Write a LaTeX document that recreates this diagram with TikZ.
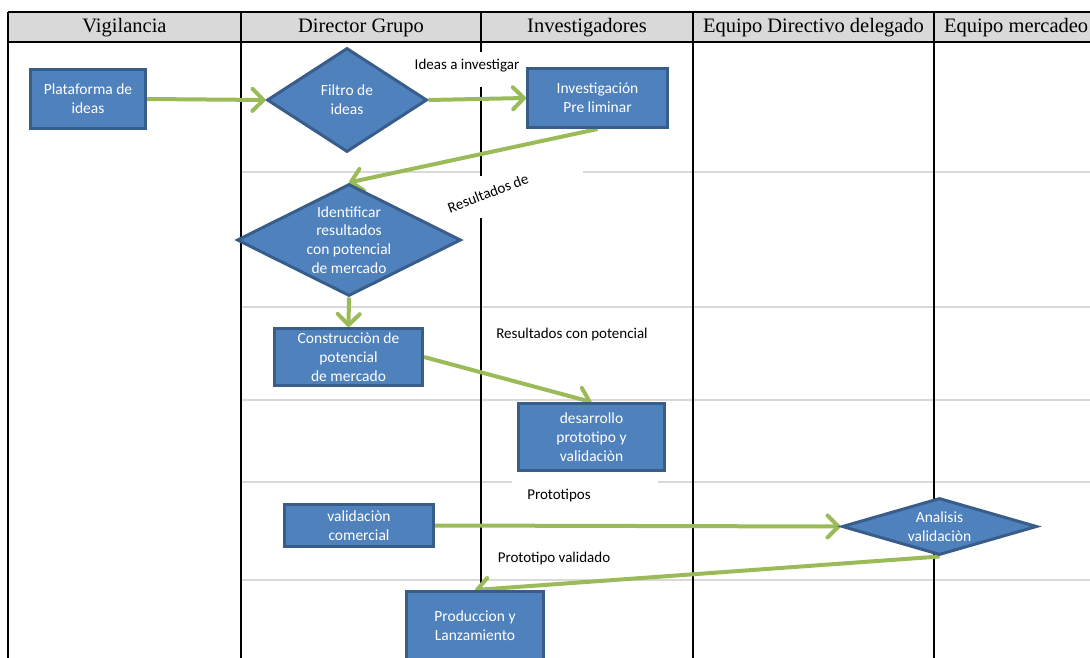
\documentclass[tikz,border=0pt]{standalone}
\usepackage{fontspec}
\setmainfont{Liberation Serif}
\newfontfamily\boxfont{Carlito}
\usetikzlibrary{shapes.geometric,arrows.meta}

\definecolor{boxblue}{HTML}{4F81BD}
\definecolor{boxedge}{HTML}{385D8A}
\definecolor{flowgreen}{HTML}{9BBB59}
\definecolor{headgray}{HTML}{D9D9D9}
\definecolor{rowgray}{HTML}{D9D9D9}

\pgfdeclarelayer{grid}
\pgfdeclarelayer{links}
\pgfsetlayers{grid,links,main}

\begin{document}
\begin{tikzpicture}[x=1pt,y=-1pt,
  proc/.style={rectangle, fill=boxblue, draw=boxedge, line width=3pt,
    text=white, font=\boxfont\fontsize{15.5}{18.7}\selectfont, align=center, inner sep=0pt},
  decision/.style={diamond, fill=boxblue, draw=boxedge, line width=3pt, inner sep=0pt},
  dtext/.style={text=white, font=\boxfont\fontsize{15.5}{18.7}\selectfont, align=center, inner sep=0pt},
  note/.style={text=black, font=\boxfont\fontsize{15}{18}\selectfont, inner sep=0pt},
  flowarrow/.style={draw=flowgreen, line width=4pt,
    -{Straight Barb[length=11pt,width=22pt,round]}},
  lane/.style={draw=black, line width=2.8pt},
  rowline/.style={draw=rowgray, line width=1.6pt},
  head/.style={font=\fontsize{20.5}{24}\selectfont, inner sep=0pt}
]
\useasboundingbox (0,0) rectangle (1090,658);
\clip (0,0) rectangle (1090,658);

% ---------- swimlane grid ----------
\begin{pgfonlayer}{grid}
  \fill[headgray] (8,12) rectangle (1095,42);
  % row separators
  \draw[rowline] (241,172) -- (481,172);
  \draw[rowline] (583,172) -- (1095,172);
  \draw[rowline] (241,307) -- (1095,307);
  \draw[rowline] (241,400) -- (1095,400);
  \draw[rowline] (241,482) -- (512,482);
  \draw[rowline] (658,482) -- (1095,482);
  \draw[rowline] (241,580) -- (1095,580);
  % lane borders
  \draw[lane] (8,12) -- (1095,12);
  \draw[lane] (8,42) -- (1095,42);
  \draw[lane] (8,12) -- (8,660);
  \draw[lane] (241,12) -- (241,660);
  \draw[lane] (481,12) -- (481,52);
  \draw[lane] (481,87) -- (481,176);
  \draw[lane] (481,218) -- (481,660);
  \draw[lane] (693,12) -- (693,660);
  \draw[lane] (934,12) -- (934,660);
\end{pgfonlayer}

% ---------- lane titles ----------
\node[head] (hVig) at (124.5,28) {Vigilancia};
\node[head] (hDir) at (361,28) {Director Grupo};
\node[head] (hInv) at (587,28) {Investigadores};
\node[head] (hEqd) at (813.5,28) {Equipo Directivo delegado};
\node[head, anchor=west] (hMer) at (944,28) {Equipo mercadeo};

% ---------- process steps ----------
\node[proc, minimum width=115, minimum height=59] (plat) at (88,99) {Plataforma de\\ideas};
\node[decision, minimum width=160, minimum height=104] (filtro) at (347,100) {};
\node[dtext] at (filtro.center) {Filtro de\\ideas};
\node[proc, minimum width=140, minimum height=59] (inv) at (597.5,98) {Investigación\\Pre liminar};
\node[decision, minimum width=224, minimum height=112] (ident) at (349,240) {};
\node[dtext] at (349,240) {Identificar\\resultados\\con potencial\\de mercado};
\node[proc, minimum width=148, minimum height=57] (constr) at (348.5,357) {Construcciòn de\\potencial\\de mercado};
\node[proc, minimum width=146, minimum height=67] (desa) at (591.5,437) {desarrollo\\prototipo y\\validaciòn};
\node[proc, minimum width=149, minimum height=42] (valcom) at (359,525.5) {validaciòn\\comercial};
\node[decision, minimum width=195, minimum height=57] (anal) at (939.5,526.5) {};
\node[dtext] at (939.5,527) {Analisis\\validaciòn};
\node[proc, minimum width=137, minimum height=69] (prod) at (475,626) {Produccion y\\Lanzamiento};

% ---------- flow labels ----------
\node[note] (lIdeas) at (467,66) {Ideas a investigar};
\node[note, rotate=21] (lRes) at (488,193) {Resultados de};
\node[note] (lPot) at (572,334) {Resultados con potencial};
\node[note] (lProt) at (559,496) {Prototipos};
\node[note] (lVal) at (554,558) {Prototipo validado};

% ---------- connectors ----------
\begin{pgfonlayer}{links}
  \draw[flowarrow] (plat.east) -- (filtro.west);
  \draw[flowarrow] (filtro.east) -- (inv.west);
  \draw[flowarrow] (inv.south) -- (ident.north);
  \draw[flowarrow] (ident.south) -- (constr.north);
  \draw[flowarrow] (constr.east) -- (desa.north);
  \draw[flowarrow] (valcom.east) -- (anal.west);
  \draw[flowarrow] (anal.south) -- (prod.north);
\end{pgfonlayer}
\end{tikzpicture}
\end{document}
